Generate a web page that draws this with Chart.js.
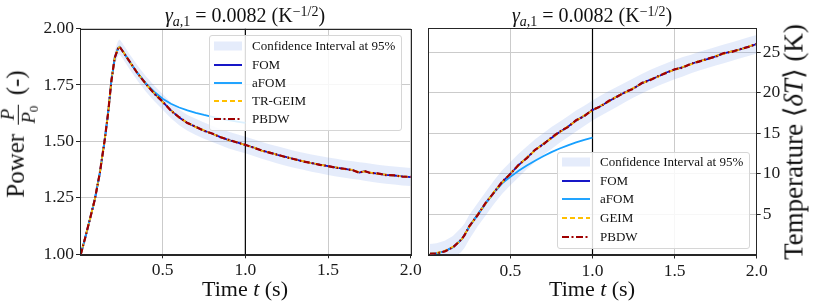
<!DOCTYPE html>
<html><head><meta charset="utf-8">
<script src="https://cdn.jsdelivr.net/npm/chart.js@4.4.1/dist/chart.umd.min.js"></script>
<style>
html,body{margin:0;padding:0;background:#fff;}
#wrap{position:relative;width:814px;height:308px;overflow:hidden;font-family:"Liberation Serif","DejaVu Serif",serif;color:#111;}
canvas{position:absolute;left:0;top:0;}
.t{position:absolute;white-space:nowrap;line-height:1;}
.title{font-size:20px;transform:translateX(-50%);}
.xt{font-size:22px;transform:translateX(-50%);}
.yt{font-size:25px;transform:translate(-50%,-50%) rotate(-90deg);}
sub{font-size:0.7em;vertical-align:-0.25em;line-height:0;}
sup{font-size:0.7em;vertical-align:0.45em;line-height:0;}
.frac{display:inline-flex;flex-direction:column;align-items:center;vertical-align:middle;font-size:0.75em;line-height:1.05;margin:0 3px;}
.frac .den{border-top:1px solid #111;padding:0 1px;}
.legend{position:absolute;width:193px;box-sizing:border-box;border:1px solid #d6d6d6;border-radius:3px;background:rgba(255,255,255,0.85);font-size:13px;}
.row{position:absolute;left:4px;height:16px;display:flex;align-items:center;white-space:nowrap;}
.row svg{width:28px;height:10px;margin-right:10px;flex:none;}
</style></head><body>
<div id="wrap">
<canvas id="c1" width="814" height="308"></canvas>
<canvas id="c2" width="814" height="308"></canvas>

<div class="t title" style="left:245px;top:5px"><i>γ</i><sub><i>a</i>,1</sub> = 0.0082 (K<sup>−1/2</sup>)</div>
<div class="t title" style="left:592px;top:5px"><i>γ</i><sub><i>a</i>,1</sub> = 0.0082 (K<sup>−1/2</sup>)</div>
<div class="t xt" style="left:245px;top:278px">Time <i>t</i> (s)</div>
<div class="t xt" style="left:592px;top:278px">Time <i>t</i> (s)</div>
<div class="t yt" style="left:18px;top:134px">Power <span class="frac"><span><i>P</i></span><span class="den"><i>P</i><sub>0</sub></span></span> (-)</div>
<div class="t yt" style="left:794px;top:142px;font-size:27px">Temperature ⟨<i>δT</i>⟩ (K)</div>

<div class="legend" id="leg1" style="left:209px;top:35px;height:96px"></div>
<div class="legend" id="leg2" style="left:557px;top:152px;height:97px"></div>
</div>
<script>
// ---------------- data ----------------
const timePower = [0.005,0.03,0.06,0.09,0.12,0.15,0.17,0.19,0.21,0.23,0.24,0.26,0.30,0.35,0.40,0.45,0.50,0.55,0.60,0.65,0.70,0.75,0.80,0.85,0.90,0.95,1.00,1.05,1.10,1.15,1.20,1.25,1.30,1.35,1.40,1.45,1.50,1.55,1.60,1.65,1.69,1.72,1.75,1.80,1.85,1.90,1.95,2.00];
const powerFOM  = [1.000,1.070,1.155,1.245,1.360,1.510,1.625,1.770,1.870,1.912,1.918,1.898,1.853,1.800,1.753,1.712,1.675,1.637,1.606,1.582,1.564,1.548,1.534,1.519,1.506,1.496,1.484,1.473,1.459,1.450,1.439,1.430,1.420,1.412,1.404,1.397,1.390,1.384,1.378,1.373,1.362,1.368,1.362,1.357,1.352,1.349,1.345,1.342];
const powerAFOM = [1.000,1.070,1.155,1.245,1.360,1.510,1.625,1.770,1.870,1.912,1.918,1.898,1.853,1.801,1.756,1.719,1.689,1.667,1.650,1.637,1.626,1.617,1.609,1.601,1.594,1.588,1.582];
const powerGEIM = [1.000,1.071,1.154,1.246,1.359,1.511,1.624,1.771,1.869,1.913,1.917,1.899,1.852,1.801,1.752,1.713,1.674,1.638,1.605,1.583,1.563,1.549,1.533,1.520,1.505,1.497,1.483,1.474,1.458,1.451,1.438,1.431,1.419,1.413,1.403,1.398,1.389,1.385,1.377,1.374,1.363,1.367,1.363,1.356,1.353,1.348,1.346,1.341];
const powerPBDW = [1.000,1.069,1.156,1.244,1.361,1.509,1.626,1.769,1.871,1.911,1.919,1.897,1.854,1.799,1.754,1.711,1.676,1.636,1.607,1.581,1.565,1.547,1.535,1.518,1.507,1.495,1.485,1.472,1.460,1.449,1.440,1.429,1.421,1.411,1.405,1.396,1.391,1.383,1.379,1.372,1.361,1.369,1.361,1.358,1.351,1.350,1.344,1.343];
const powerUpper = [1.010,1.082,1.170,1.263,1.381,1.534,1.652,1.800,1.902,1.945,1.951,1.931,1.886,1.834,1.787,1.746,1.710,1.672,1.641,1.617,1.600,1.584,1.569,1.555,1.543,1.532,1.521,1.509,1.497,1.486,1.477,1.467,1.458,1.450,1.442,1.435,1.429,1.423,1.417,1.412,1.408,1.406,1.402,1.397,1.392,1.389,1.385,1.382];
const powerLower = [0.990,1.058,1.140,1.227,1.339,1.486,1.598,1.740,1.838,1.879,1.885,1.865,1.820,1.766,1.719,1.678,1.640,1.602,1.571,1.547,1.528,1.512,1.497,1.483,1.469,1.458,1.447,1.435,1.423,1.412,1.401,1.391,1.382,1.374,1.366,1.359,1.351,1.345,1.339,1.334,1.330,1.326,1.322,1.317,1.312,1.309,1.305,1.302];

const timeTemp = [0.01,0.05,0.10,0.15,0.20,0.22,0.25,0.30,0.35,0.40,0.45,0.50,0.55,0.60,0.65,0.70,0.75,0.80,0.85,0.90,0.95,1.00,1.05,1.10,1.15,1.20,1.25,1.30,1.35,1.40,1.45,1.50,1.55,1.60,1.65,1.70,1.75,1.80,1.85,1.90,1.95,2.00];
const tempFOM  = [0.10,0.15,0.40,0.90,1.80,2.40,3.45,4.90,6.35,7.70,8.95,10.00,11.05,11.95,12.90,13.65,14.40,15.15,15.80,16.55,17.15,17.85,18.35,18.95,19.55,20.05,20.55,21.15,21.60,22.00,22.50,22.85,23.15,23.55,23.90,24.15,24.50,24.85,25.10,25.35,25.70,26.00];
const tempAFOM = [0.10,0.15,0.40,0.90,1.80,2.40,3.45,4.90,6.33,7.65,8.80,9.60,10.35,11.00,11.60,12.15,12.65,13.10,13.50,13.85,14.18,14.45];
const tempGEIM = [0.10,0.18,0.45,0.95,1.75,2.45,3.40,4.95,6.30,7.75,8.90,10.05,11.00,12.00,12.85,13.70,14.35,15.10,15.85,16.50,17.20,17.80,18.40,18.90,19.60,20.00,20.60,21.10,21.65,21.95,22.55,22.80,23.20,23.50,23.95,24.10,24.55,24.80,25.15,25.30,25.75,25.95];
const tempPBDW = [0.08,0.12,0.38,0.88,1.82,2.35,3.50,4.85,6.40,7.65,9.00,9.95,11.10,11.90,12.95,13.60,14.45,15.20,15.75,16.60,17.10,17.90,18.30,19.00,19.50,20.10,20.50,21.20,21.55,22.05,22.45,22.90,23.10,23.60,23.85,24.20,24.45,24.90,25.05,25.40,25.65,26.05];
const tempUpper = [1.30,1.40,1.70,2.30,3.30,3.80,4.90,6.35,7.75,9.15,10.40,11.45,12.45,13.35,14.25,15.00,15.75,16.40,17.10,17.80,18.40,19.05,19.65,20.20,20.75,21.25,21.80,22.30,22.80,23.25,23.65,24.05,24.40,24.70,25.05,25.35,25.65,25.95,26.25,26.55,26.85,27.15];
const tempLower = [-1.10,-1.10,-0.90,-0.50,0.30,0.80,1.90,3.45,4.85,6.25,7.50,8.55,9.55,10.55,11.45,12.30,13.05,13.80,14.50,15.20,15.90,16.55,17.15,17.70,18.25,18.85,19.40,19.90,20.40,20.85,21.25,21.65,22.00,22.40,22.75,23.05,23.35,23.65,23.95,24.25,24.55,24.85];

const timeTicks  = [0.5,1.0,1.5,2.0];
const powerTicks = [1.00,1.25,1.50,1.75,2.00];
const tempTicks  = [5,10,15,20,25];
const timeRange  = [0,2];
const powerRange = [1.0,2.0];
const tempRange  = [0,28];
const tSwitch    = 1.0;

// ---------------- style ----------------
const COL = {band:'rgba(110,150,235,0.18)', fom:'#0b0bc4', afom:'#17a0ff', geim:'#ffbf00', pbdw:'#a00000'};
const GRID = '#cbcbcb', AX = '#262626';
const FONT = 'Liberation Serif';

const pts = (xs, ys) => ys.map((y,i)=>({x:xs[i], y}));

function buildSets(t, fom, afom, geim, pbdw, lo, hi, yr){
  return [
    {label:'lower', data:pts(t,lo), borderWidth:0, borderColor:'rgba(0,0,0,0)', pointRadius:0, fill:false, order:10},
    {label:'Confidence Interval at 95%', data:pts(t,hi), borderWidth:0, borderColor:'rgba(0,0,0,0)', pointRadius:0, fill:'-1', backgroundColor:COL.band, order:9},
    {label:'switch', data:[{x:tSwitch,y:yr[0]},{x:tSwitch,y:yr[1]}], borderColor:'#000', borderWidth:1.2, pointRadius:0, order:8},
    {label:'FOM', data:pts(t,fom), borderColor:COL.fom, borderWidth:1.8, pointRadius:0, order:4},
    {label:'aFOM', data:pts(t,afom), borderColor:COL.afom, borderWidth:1.8, pointRadius:0, order:3},
    {label:'GEIM', data:pts(t,geim), borderColor:COL.geim, borderWidth:1.8, borderDash:[4,3], pointRadius:0, order:2},
    {label:'PBDW', data:pts(t,pbdw), borderColor:COL.pbdw, borderWidth:2.2, borderDash:[6,2.5,1.5,2.5], pointRadius:0, order:1}
  ];
}

const frame = {id:'frame', afterDatasetsDraw(chart){
  const a = chart.chartArea, c = chart.ctx;
  c.save(); c.strokeStyle = AX; c.lineWidth = 1;
  c.strokeRect(Math.round(a.left)+0.5, Math.round(a.top)+0.5, Math.round(a.right-a.left), Math.round(a.bottom-a.top));
  c.restore();
}};

function axis(range, ticks, fmt, extra){
  return Object.assign({
    type:'linear', min:range[0], max:range[1],
    afterBuildTicks: s => { s.ticks = ticks.map(v=>({value:v})); },
    grid:{color:GRID, lineWidth:1, tickColor:AX, tickLength:4, drawTicks:true},
    border:{color:AX, width:1},
    ticks:{font:{family:FONT, size:17.5}, color:'#1a1a1a', padding:2, maxRotation:0, autoSkip:false, callback:fmt}
  }, extra);
}

function makeChart(id, sets, xAx, yAx, pad){
  return new Chart(document.getElementById(id), {
    type:'line',
    data:{datasets:sets},
    options:{
      responsive:false, animation:false, devicePixelRatio:1,
      parsing:true, normalized:true,
      layout:{padding:pad},
      plugins:{legend:{display:false}, tooltip:{enabled:false}, title:{display:false}},
      elements:{line:{tension:0}},
      scales:{x:xAx, y:yAx}
    },
    plugins:[frame]
  });
}

makeChart('c1',
  buildSets(timePower, powerFOM, powerAFOM, powerGEIM, powerPBDW, powerLower, powerUpper, powerRange),
  axis(timeRange, timeTicks, v=>v.toFixed(1), {position:'bottom', afterFit:s=>{s.height=30;}}),
  axis(powerRange, powerTicks, v=>v.toFixed(2), {position:'left', afterFit:s=>{s.width=80;}}),
  {left:0, right:403.3, top:28.5, bottom:23.7});

makeChart('c2',
  buildSets(timeTemp, tempFOM, tempAFOM, tempGEIM, tempPBDW, tempLower, tempUpper, tempRange),
  axis(timeRange, timeTicks, v=>v.toFixed(1), {position:'bottom', afterFit:s=>{s.height=30;}}),
  axis(tempRange, tempTicks, v=>String(v), {position:'right', afterFit:s=>{s.width=50;}}),
  {left:428.3, right:7.3, top:28, bottom:23.5});

// ---------------- legends ----------------
function handle(kind){
  if (kind==='band') return `<svg viewBox="0 0 28 10"><rect x="0" y="0.5" width="28" height="9" fill="${COL.band}"/></svg>`;
  const st = {fom:[COL.fom,''], afom:[COL.afom,''], geim:[COL.geim,'5 3'], pbdw:[COL.pbdw,'7 2.5 2 2.5']}[kind];
  return `<svg viewBox="0 0 28 10"><line x1="0" y1="5" x2="28" y2="5" stroke="${st[0]}" stroke-width="1.9" ${st[1]?`stroke-dasharray="${st[1]}"`:''}/></svg>`;
}
function legend(id, items, y0, dy){
  const el = document.getElementById(id);
  el.innerHTML = items.map((it,i)=>`<div class="row" style="top:${(y0+dy*i-8).toFixed(1)}px">${handle(it[0])}<span>${it[1]}</span></div>`).join('');
}
legend('leg1', [['band','Confidence Interval at 95%'],['fom','FOM'],['afom','aFOM'],['geim','TR-GEIM'],['pbdw','PBDW']], 10.2, 18.3);
legend('leg2', [['band','Confidence Interval at 95%'],['fom','FOM'],['afom','aFOM'],['geim','GEIM'],['pbdw','PBDW']], 8.8, 18.7);
</script>
</body></html>
